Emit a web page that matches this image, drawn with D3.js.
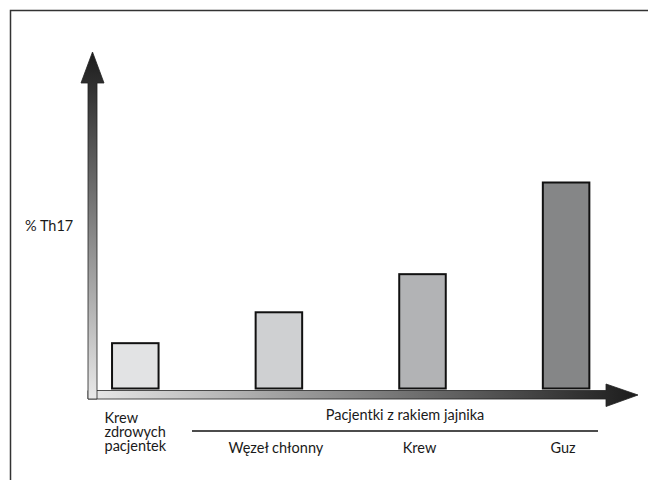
<!DOCTYPE html>
<html>
<head>
<meta charset="utf-8">
<script src="https://cdn.jsdelivr.net/npm/d3@7"></script>
<style>
  body { margin: 0; background: #fff; }
  svg text { font-family: Lato, "Liberation Sans", sans-serif; fill: #1a1a1a; font-size: 14.5px; }
</style>
</head>
<body>
<svg id="chart" width="648" height="480"></svg>
<script>
// chart data
const categories = ['Krew zdrowych pacjentek', 'Węzeł chłonny', 'Krew', 'Guz'];
const th17Values = [22, 37, 55.5, 100];   // relative % Th17 (no scale printed)
const barColors = ['#e2e3e4', '#cfd0d2', '#b2b3b5', '#858687'];
const groupLabel = 'Pacjentki z rakiem jajnika';
const yLabel = '% Th17';

const svg = d3.select('#chart');

// outer frame (runs off the right and bottom edge)
svg.append('rect')
    .attr('x', 10.5).attr('y', 10.5)
    .attr('width', 800).attr('height', 800)
    .attr('fill', 'none')
    .attr('stroke', '#333')
    .attr('stroke-width', 1.5);

const x = d3.scaleBand()
    .domain(categories)
    .range([63.5, 637.9])
    .paddingInner(0.676)
    .paddingOuter(0.338);

const y = d3.scaleLinear()
    .domain([0, 100])
    .range([388.5, 182.5]);

const defs = svg.append('defs');

const gy = defs.append('linearGradient')
    .attr('id', 'grad-y')
    .attr('gradientUnits', 'userSpaceOnUse')
    .attr('x1', 0).attr('y1', 52).attr('x2', 0).attr('y2', 399);
gy.append('stop').attr('offset', 0).attr('stop-color', '#1c1c1c');
gy.append('stop').attr('offset', 1).attr('stop-color', '#e9e9e9');

const gx = defs.append('linearGradient')
    .attr('id', 'grad-x')
    .attr('gradientUnits', 'userSpaceOnUse')
    .attr('x1', 88).attr('y1', 0).attr('x2', 638).attr('y2', 0);
gx.append('stop').attr('offset', 0).attr('stop-color', '#e9e9e9');
gx.append('stop').attr('offset', 1).attr('stop-color', '#1c1c1c');

// x arrow
const xa = d3.path();
xa.moveTo(88, 390.5);
xa.lineTo(606, 390.5);
xa.lineTo(606, 384);
xa.lineTo(638, 395);
xa.lineTo(606, 406.5);
xa.lineTo(606, 399);
xa.lineTo(88, 399);
xa.closePath();
svg.append('path')
    .attr('d', xa.toString())
    .attr('fill', 'url(#grad-x)')
    .attr('stroke', '#222')
    .attr('stroke-width', 0.8);

// y arrow
const ya = d3.path();
ya.moveTo(88, 399);
ya.lineTo(88, 83);
ya.lineTo(81, 83);
ya.lineTo(92.5, 52);
ya.lineTo(104, 83);
ya.lineTo(97, 83);
ya.lineTo(97, 399);
ya.closePath();
svg.append('path')
    .attr('d', ya.toString())
    .attr('fill', 'url(#grad-y)')
    .attr('stroke', '#222')
    .attr('stroke-width', 0.8);

// bars
svg.selectAll('rect.bar')
    .data(categories)
    .join('rect')
    .attr('class', 'bar')
    .attr('x', d => x(d))
    .attr('y', (d, i) => y(th17Values[i]))
    .attr('width', x.bandwidth())
    .attr('height', (d, i) => y(0) - y(th17Values[i]))
    .attr('fill', (d, i) => barColors[i])
    .attr('stroke', '#111')
    .attr('stroke-width', 2);

// y label
svg.append('text')
    .attr('x', 25).attr('y', 231)
    .text(yLabel);

// first category label (left aligned, three lines)
const first = svg.append('text')
    .attr('x', 104.5).attr('y', 423);
categories[0].split(' ').forEach((w, i) => {
    first.append('tspan').attr('x', 104.5).attr('dy', i ? 14.2 : 0).text(w);
});

// other category labels
svg.selectAll('text.cat')
    .data(categories.slice(1))
    .join('text')
    .attr('class', 'cat')
    .attr('x', d => x(d) + x.bandwidth() / 2 - 3)
    .attr('y', 453)
    .attr('text-anchor', 'middle')
    .text(d => d);

// group bracket
svg.append('line')
    .attr('x1', 192).attr('x2', 598)
    .attr('y1', 431).attr('y2', 431)
    .attr('stroke', '#111')
    .attr('stroke-width', 1.3);

svg.append('text')
    .attr('x', 405).attr('y', 419.5)
    .attr('text-anchor', 'middle')
    .text(groupLabel);
</script>
</body>
</html>
